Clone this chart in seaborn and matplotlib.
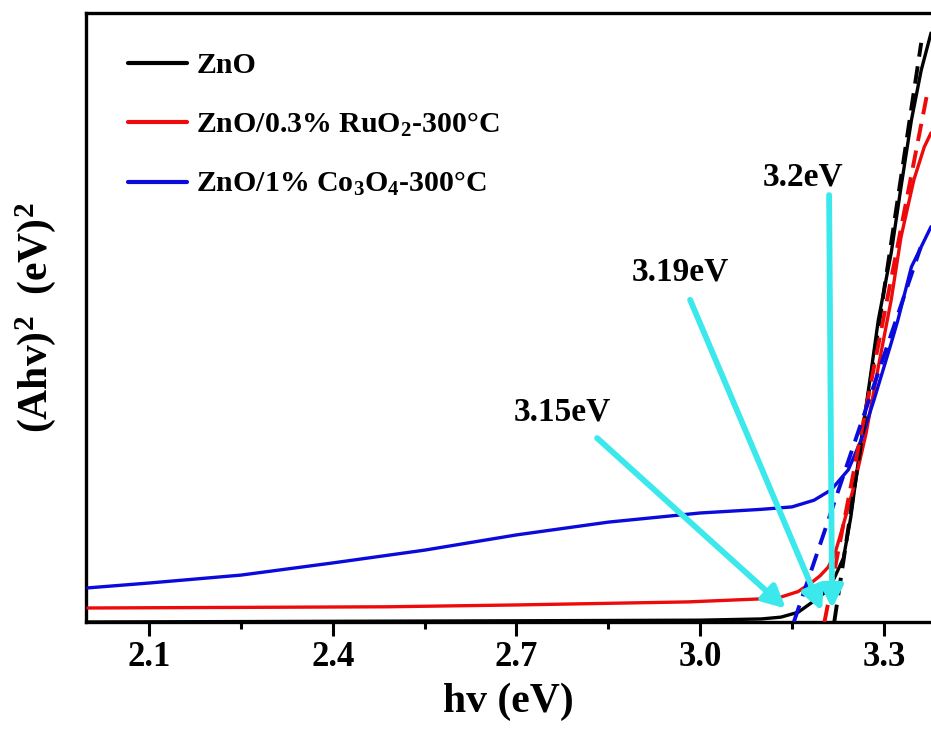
import matplotlib
matplotlib.use("Agg")
import matplotlib.pyplot as plt
import seaborn as sns
import numpy as np

sns.set_theme(style="white")
plt.rcParams['font.family'] = ['Liberation Serif', 'DejaVu Serif']
plt.rcParams['font.weight'] = 'bold'
plt.rcParams['text.color'] = 'black'
plt.rcParams['axes.labelcolor'] = 'black'
plt.rcParams['xtick.color'] = 'black'
plt.rcParams['mathtext.fontset'] = 'custom'
plt.rcParams['mathtext.rm'] = 'Liberation Serif:bold'
plt.rcParams['mathtext.it'] = 'Liberation Serif:bold'
plt.rcParams['mathtext.bf'] = 'Liberation Serif:bold'

# ---------------- DATA ----------------
# ZnO
zno_x = [2.00, 2.70, 3.00, 3.10, 3.132, 3.160, 3.181, 3.203, 3.219, 3.234, 3.246,
         3.263, 3.279, 3.291, 3.312, 3.328, 3.345, 3.361, 3.377]
zno_y = [0.000, 0.002, 0.003, 0.005, 0.008, 0.016, 0.031, 0.048, 0.072, 0.105, 0.172,
         0.299, 0.410, 0.496, 0.606, 0.714, 0.824, 0.906, 0.967]

# ZnO/0.3% RuO2-300C
ru_x = [2.00, 2.25, 2.49, 2.70, 2.98, 3.10, 3.132, 3.160, 3.181, 3.196, 3.209, 3.220,
        3.230, 3.251, 3.271, 3.291, 3.312, 3.328, 3.349, 3.366, 3.377]
ru_y = [0.023, 0.024, 0.025, 0.028, 0.033, 0.038, 0.041, 0.050, 0.064, 0.076, 0.090,
        0.112, 0.146, 0.222, 0.310, 0.419, 0.529, 0.632, 0.726, 0.780, 0.803]

# ZnO/1% Co3O4-300C
co_x = [2.00, 2.10, 2.25, 2.40, 2.55, 2.70, 2.85, 3.00, 3.10, 3.150, 3.186, 3.214,
        3.242, 3.263, 3.284, 3.312, 3.323, 3.345, 3.361, 3.377]
co_y = [0.056, 0.064, 0.077, 0.097, 0.118, 0.143, 0.164, 0.179, 0.185, 0.189, 0.200,
        0.217, 0.250, 0.299, 0.365, 0.458, 0.496, 0.583, 0.616, 0.649]

# tangent (Tauc) lines: two end points each
tan_zno_x = [3.219, 3.361]
tan_zno_y = [0.000, 0.951]
tan_ru_x = [3.203, 3.372]
tan_ru_y = [0.000, 0.874]
tan_co_x = [3.153, 3.360]
tan_co_y = [0.000, 0.615]

labels = ['ZnO',
          r'ZnO/0.3% RuO$\mathregular{_2}$-300°C',
          r'ZnO/1% Co$\mathregular{_3}$O$\mathregular{_4}$-300°C']
colors = ['black', '#EE0A0A', '#0A0ADC']

# band gap annotations: text, text position, arrow start, arrow tip
gap_text = ['3.2eV', '3.19eV', '3.15eV']
gap_text_xy = [(3.168, 0.731), (2.967, 0.575), (2.775, 0.345)]
gap_start = [(3.2106, 0.701), (2.9836, 0.529), (2.8317, 0.302)]
gap_tip = [(3.2155, 0.022), (3.199, 0.018), (3.140, 0.022)]

# ---------------- PLOT ----------------
fig = plt.figure(figsize=(9.31, 7.45), dpi=100)
ax = fig.add_axes([86/931, 1 - 622/745, 845/931, 609/745])

lw = 2.4
sns.lineplot(x=zno_x, y=zno_y, color=colors[0], lw=lw, label=labels[0], ax=ax, zorder=3)
sns.lineplot(x=ru_x, y=ru_y, color=colors[1], lw=lw, label=labels[1], ax=ax, zorder=3)
sns.lineplot(x=co_x, y=co_y, color=colors[2], lw=lw, label=labels[2], ax=ax, zorder=3)

for tx, ty, c in [(tan_zno_x, tan_zno_y, colors[0]),
                  (tan_ru_x, tan_ru_y, colors[1]),
                  (tan_co_x, tan_co_y, colors[2])]:
    ax.plot(tx, ty, color=c, lw=lw + 0.4, ls=(0, (4.5, 2.5)), zorder=3)

for txt, txy, st, tip in zip(gap_text, gap_text_xy, gap_start, gap_tip):
    ax.text(txy[0], txy[1], txt, fontsize=24, fontweight='bold',
            ha='center', va='center', zorder=5)
    ax.annotate('', xy=tip, xytext=st,
                arrowprops=dict(arrowstyle='-|>,head_length=1.1,head_width=0.55',
                                color='#3BE8EC', lw=4.2, shrinkA=0, shrinkB=0),
                zorder=4)

ax.set_xlim(1.997, 3.377)
ax.set_ylim(0, 1.0)
ax.set_xticks([2.1, 2.4, 2.7, 3.0, 3.3])
ax.set_xticklabels(['2.1', '2.4', '2.7', '3.0', '3.3'])
ax.set_xticks(np.arange(2.25, 3.3, 0.3), minor=True)
ax.set_yticks([])

ax.tick_params(axis='x', which='major', direction='out', length=10, width=2.2,
               labelsize=25, pad=4, bottom=True, color='black')
ax.tick_params(axis='x', which='minor', direction='out', length=5, width=2.2,
               bottom=True, color='black')
for lab in ax.get_xticklabels():
    lab.set_fontweight('bold')

for side in ['left', 'bottom', 'top']:
    ax.spines[side].set_linewidth(2.4)
    ax.spines[side].set_color('black')
ax.spines['right'].set_visible(False)

ax.set_xlabel('hv (eV)', fontsize=30, fontweight='bold', labelpad=6)
ax.set_ylabel(r'(Ahv)$\mathregular{^2}$  (eV)$\mathregular{^2}$', fontsize=30,
              fontweight='bold', labelpad=20)

leg = ax.legend(loc='upper left', bbox_to_anchor=(0.035, 0.955), frameon=False,
                fontsize=21.5, handlelength=2.0, handletextpad=0.3,
                labelspacing=1.05, borderaxespad=0)
for t in leg.get_texts():
    t.set_fontweight('bold')
    t.set_color('black')
for h in leg.get_lines():
    h.set_linewidth(3)

fig.savefig('out.png', dpi=100)
